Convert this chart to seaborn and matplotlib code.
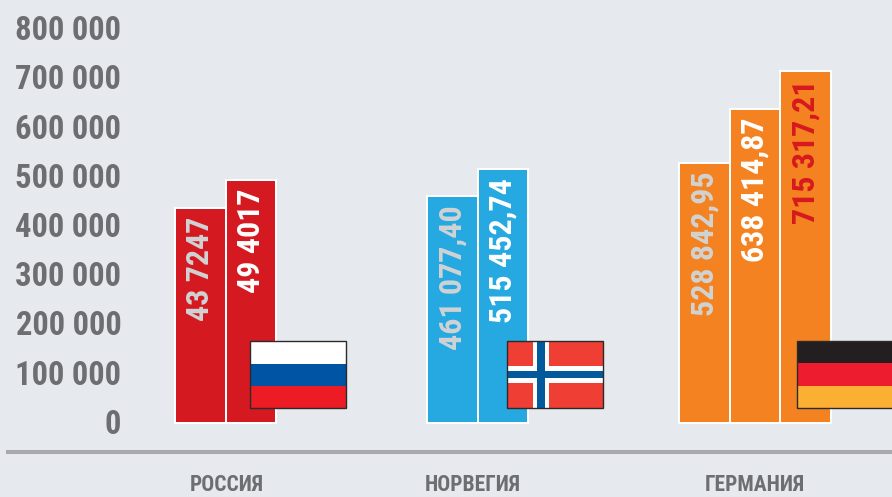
import matplotlib
matplotlib.use('Agg')
import matplotlib.pyplot as plt
from matplotlib.patches import Rectangle
from matplotlib.transforms import ScaledTranslation
import pandas as pd
import seaborn as sns

W, H = 892, 497

countries = ['РОССИЯ', 'НОРВЕГИЯ', 'ГЕРМАНИЯ']
russia_values = [437247, 494017]
norway_values = [461077.40, 515452.74]
germany_values = [528842.95, 638414.87, 715317.21]
russia_labels = ['43 7247', '49 4017']
norway_labels = ['461 077,40', '515 452,74']
germany_labels = ['528 842,95', '638 414,87', '715 317,21']
yticks = [0, 100000, 200000, 300000, 400000, 500000, 600000, 700000, 800000]
ytick_labels = ['0', '100 000', '200 000', '300 000', '400 000', '500 000', '600 000', '700 000', '800 000']

bar_colors = ['#D51920', '#25A9E0', '#F58220']
text_colors = ['#D0D3D4', '#FFFFFF', '#D7191F']
BG = '#E6E9ED'
GRAY = '#6D6E71'
LINE = '#A7A9AC'
FONT = ['Roboto Condensed', 'Roboto', 'DejaVu Sans']

# every group starts 5 bar widths after the previous one
rows = []
groups = [(russia_values, russia_labels), (norway_values, norway_labels), (germany_values, germany_labels)]
for i, (vals, labs) in enumerate(groups):
    for j, (v, lab) in enumerate(zip(vals, labs)):
        rows.append({'country': countries[i], 'slot': i * 5 + j, 'value': v, 'label': lab, 'order': j})
df = pd.DataFrame(rows)

sns.set_theme(style='white')
plt.rcParams['font.family'] = FONT

fig = plt.figure(figsize=(W / 100, H / 100), dpi=100, facecolor=BG)
ax = fig.add_axes([6 / W, (H - 452) / H, (W - 6) / W, 452 / H], facecolor='none')

sns.barplot(data=df, x='slot', y='value', hue='country', palette=bar_colors, dodge=False,
            native_scale=True, width=1, edgecolor='white', linewidth=1.45, legend=False,
            saturation=1, ax=ax)

ax.set_xlim(-3.859, 13.72)
ax.set_ylim(-58940, 859750)
ax.set_xlabel('')
ax.set_ylabel('')

ax.set_yticks(yticks)
ax.set_yticklabels(ytick_labels, fontsize=23.5, fontweight='bold', color=GRAY)
ax.set_xticks([0.53, 5.41, 11.0])
ax.set_xticklabels(countries, fontsize=15.5, fontweight='bold', color=GRAY)
ax.tick_params(axis='y', length=0, pad=-83)
ax.tick_params(axis='x', length=0, pad=16)

# nudge the tick labels up a little
nudge = ScaledTranslation(0, 1.7 / 100, fig.dpi_scale_trans)
for lab in ax.get_yticklabels():
    lab.set_transform(lab.get_transform() + nudge)

sns.despine(ax=ax, left=True)
ax.spines['bottom'].set_color(LINE)
ax.spines['bottom'].set_linewidth(2.9)
ax.spines['bottom'].set_capstyle('butt')

# value labels run up the bars, the colour follows the position inside the group
for _, row in df.iterrows():
    ax.annotate(row['label'], (row['slot'], row['value']), xytext=(0, -6.5), textcoords='offset points',
                rotation=90, ha='center', va='top', fontsize=23, fontweight='bold',
                color=text_colors[row['order']])


def flag_rect(x0, y0, x1, y1, color):
    # pixel box, y measured from the top of the picture
    fig.add_artist(Rectangle((x0 / W, 1 - y1 / H), (x1 - x0) / W, (y1 - y0) / H,
                             transform=fig.transFigure, facecolor=color, edgecolor='none'))


def outline(x0, y0, x1, y1):
    fig.add_artist(Rectangle((x0 / W, 1 - y1 / H), (x1 - x0) / W, (y1 - y0) / H,
                             transform=fig.transFigure, facecolor='none', edgecolor='#2B2B2B', linewidth=1))


# russia
flag_rect(250, 341, 346, 363.5, '#FFFFFF')
flag_rect(250, 363.5, 346, 386, '#0054A4')
flag_rect(250, 386, 346, 408, '#ED1C24')
outline(250, 341, 346, 408)

# norway
flag_rect(507, 341, 603, 408, '#EF3E33')
flag_rect(533, 341, 549, 408, '#FFFFFF')
flag_rect(507, 366, 603, 383, '#FFFFFF')
flag_rect(537, 341, 545, 408, '#005A9C')
flag_rect(507, 371, 603, 378, '#005A9C')
outline(507, 341, 603, 408)

# germany, runs off the right edge
flag_rect(797, 341, 892, 363, '#231F20')
flag_rect(797, 363, 892, 386, '#ED1C2E')
flag_rect(797, 386, 892, 408, '#FBB034')
outline(797, 341, 900, 408)

fig.savefig('out.png', dpi=100, facecolor=BG)
